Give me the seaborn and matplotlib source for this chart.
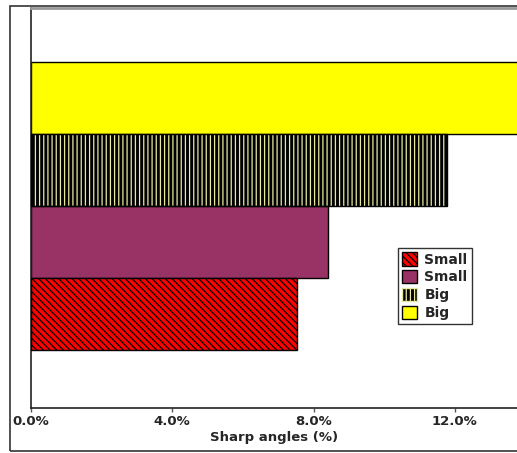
import matplotlib
matplotlib.use('Agg')
import matplotlib.pyplot as plt
import seaborn as sns
import pandas as pd
from matplotlib.patches import Rectangle

# bar data, top to bottom as drawn
groups = ["Big (plain)", "Big (striped)", "Small (plain)", "Small (hatched)"]
values = [13.9, 11.78, 8.4, 7.52]
colors = ["#ffff00", "#000000", "#993366", "#ff0000"]
hatches = [None, "||||", None, "\\\\\\\\\\"]
hatch_cols = [None, "#e8e8a0", None, "#000000"]
# legend, top to bottom
legend_labels = ["Small", "Small", "Big", "Big"]
legend_order = [3, 2, 1, 0]
xticks = [0, 4, 8, 12]

df = pd.DataFrame({"group": groups, "value": values})

sns.set_style("white")
plt.rcParams['font.family'] = ['DejaVu Sans']
plt.rcParams['hatch.linewidth'] = 0.9

fig = plt.figure(figsize=(5.17, 4.53), dpi=100)
ax = fig.add_axes([31 / 517, 1 - 408 / 453, 1 - 31 / 517, 400 / 453])

sns.barplot(data=df, y="group", x="value", hue="group", order=groups,
            palette=dict(zip(groups, colors)), width=1.0, dodge=False,
            legend=False, ax=ax, saturation=1)

bars = ax.patches[:len(groups)]
bars = sorted(bars, key=lambda p: p.get_y())
for p, h, hc in zip(bars, hatches, hatch_cols):
    p.set_linewidth(1.0)
    p.set_edgecolor("black")
    if h:
        p.set_hatch(h)
        p.set_edgecolor(hc)
        p.set_linewidth(0)
        ax.add_patch(Rectangle((p.get_x(), p.get_y()), p.get_width(), p.get_height(),
                               fill=False, edgecolor="black", lw=1.0, zorder=3))

ax.set_xlim(0, 13.76)
ax.set_ylim(3 + 1.31, -1.25)
ax.set_xticks(xticks)
ax.set_xticklabels([f"{t:.1f}%" for t in xticks], fontsize=9.5, fontweight='bold')
ax.set_yticks([])
ax.set_ylabel("")
ax.set_xlabel("Sharp angles (%)", fontsize=9.5, fontweight='bold', labelpad=2)
ax.tick_params(axis='x', bottom=True, length=3, width=1, color='#555555', pad=2)

for s in ['left', 'bottom']:
    ax.spines[s].set_color('#222222')
    ax.spines[s].set_linewidth(1.2)
ax.spines['top'].set_color('#999999')
ax.spines['top'].set_linewidth(2)
ax.spines['right'].set_visible(False)

# legend with duplicated labels
handles = []
for i in legend_order:
    r = Rectangle((0, 0), 1, 1, facecolor=colors[i], edgecolor="black", lw=1.0,
                  hatch=hatches[i])
    handles.append(r)
leg = ax.legend(handles, legend_labels, loc='upper left', bbox_to_anchor=(0.755, 0.40),
                prop={'weight': 'bold', 'size': 10}, frameon=True, fancybox=False,
                handlelength=1.1, handleheight=1.1, handletextpad=0.5,
                labelspacing=0.25, borderpad=0.3, borderaxespad=0)
leg.get_frame().set_edgecolor('black')
leg.get_frame().set_linewidth(1.0)
for i, lh in zip(legend_order, leg.get_patches()):
    if hatches[i]:
        lh.set_edgecolor(hatch_cols[i])

# outer figure frame
fig.patches.append(Rectangle((10 / 517, 2 / 453), 1.0, 1 - 8 / 453, transform=fig.transFigure,
                             fill=False, edgecolor='#333333', lw=1.2))

fig.savefig("out.png", dpi=100)
